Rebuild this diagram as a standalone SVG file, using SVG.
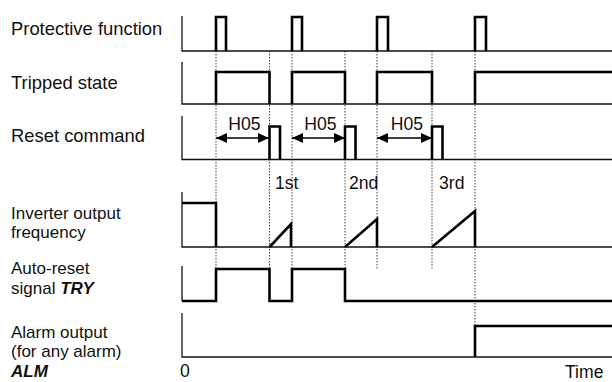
<svg xmlns="http://www.w3.org/2000/svg" width="612" height="382" viewBox="0 0 612 382">
<style>
text{font-family:"Liberation Sans",Arial,sans-serif;font-size:17.6px;fill:#111}
.ml{font-size:17px}
.bi{font-weight:bold;font-style:italic}
.ax{fill:none;stroke:#111;stroke-width:1.3}
.sig{fill:none;stroke:#000;stroke-width:2.6;stroke-linejoin:miter}
.guide{fill:none;stroke:#444;stroke-width:1;stroke-dasharray:1.5 1.5}
.dim{fill:none;stroke:#000;stroke-width:1.6}
</style>
<defs>
<marker id="ah" markerUnits="userSpaceOnUse" markerWidth="12" markerHeight="10" refX="11" refY="5" orient="auto-start-reverse">
<path d="M0,0 L11,5 L0,10 z" fill="#000"/>
</marker>
</defs>
<rect width="612" height="382" fill="#fff"/>

<g id="guides">
<path class="guide" d="M216,51V269 M269.5,51V269 M292,51V269 M345,51V269 M377,51V269 M432,51V269 M475,51V326"/>
</g>

<g id="protective">
<text x="11" y="35" style="font-size:18.4px">Protective function</text>
<path class="ax" d="M182,16V51H612"/>
<path class="sig" d="M216,51V17H226V51 M292,51V17H302V51 M377,51V17H388V51 M475,51V17H486V51"/>
</g>

<g id="tripped">
<text x="11" y="89" style="font-size:18.4px">Tripped state</text>
<path class="ax" d="M182,62V104H612"/>
<path class="sig" d="M216,104V72H269.5V104 M292,104V72H345V104 M377,104V72H432V104 M475,104V72H612"/>
</g>

<g id="reset">
<text x="11" y="142" style="font-size:18.4px">Reset command</text>
<path class="ax" d="M182,116V159.5H612"/>
<path class="sig" d="M269.5,159.5V126.5H280V159.5 M345,159.5V126.5H355.5V159.5 M432,159.5V126.5H442.5V159.5"/>
</g>

<g id="annotations">
<path class="dim" d="M216,138H269" marker-start="url(#ah)" marker-end="url(#ah)"/>
<path class="dim" d="M292,138H345" marker-start="url(#ah)" marker-end="url(#ah)"/>
<path class="dim" d="M377,138H432" marker-start="url(#ah)" marker-end="url(#ah)"/>
<text x="244.5" y="130" text-anchor="middle">H05</text>
<text x="320.5" y="130" text-anchor="middle">H05</text>
<text x="407" y="130" text-anchor="middle">H05</text>
<text x="275" y="189">1st</text>
<text x="349" y="189">2nd</text>
<text x="439" y="189">3rd</text>
</g>

<g id="inverter">
<text x="11" y="218.5" class="ml">Inverter output</text>
<text x="11" y="238.1" class="ml">frequency</text>
<path class="ax" d="M182,192V247H612"/>
<path class="sig" d="M182,203H216V247 M269.5,247L291,224V247 M345,247L377,219V247 M432,247L475,211V247"/>
</g>

<g id="tryrow">
<text x="11" y="274" class="ml">Auto-reset</text>
<text x="11" y="293.6" class="ml">signal <tspan class="bi">TRY</tspan></text>
<path class="ax" d="M182,266V301"/>
<path class="sig" d="M182,301H216V269H269.5V301H292V269H345V301H612"/>
</g>

<g id="alarm">
<text x="11" y="337.8" class="ml">Alarm output</text>
<text x="11" y="357.4" class="ml">(for any alarm)</text>
<text x="11" y="377" class="ml bi">ALM</text>
<path class="ax" d="M182,313V357H612"/>
<path class="sig" d="M475,357V326H612"/>
</g>

<g id="timeaxis">
<text x="180" y="377">0</text>
<text x="565" y="378">Time</text>
</g>
</svg>
